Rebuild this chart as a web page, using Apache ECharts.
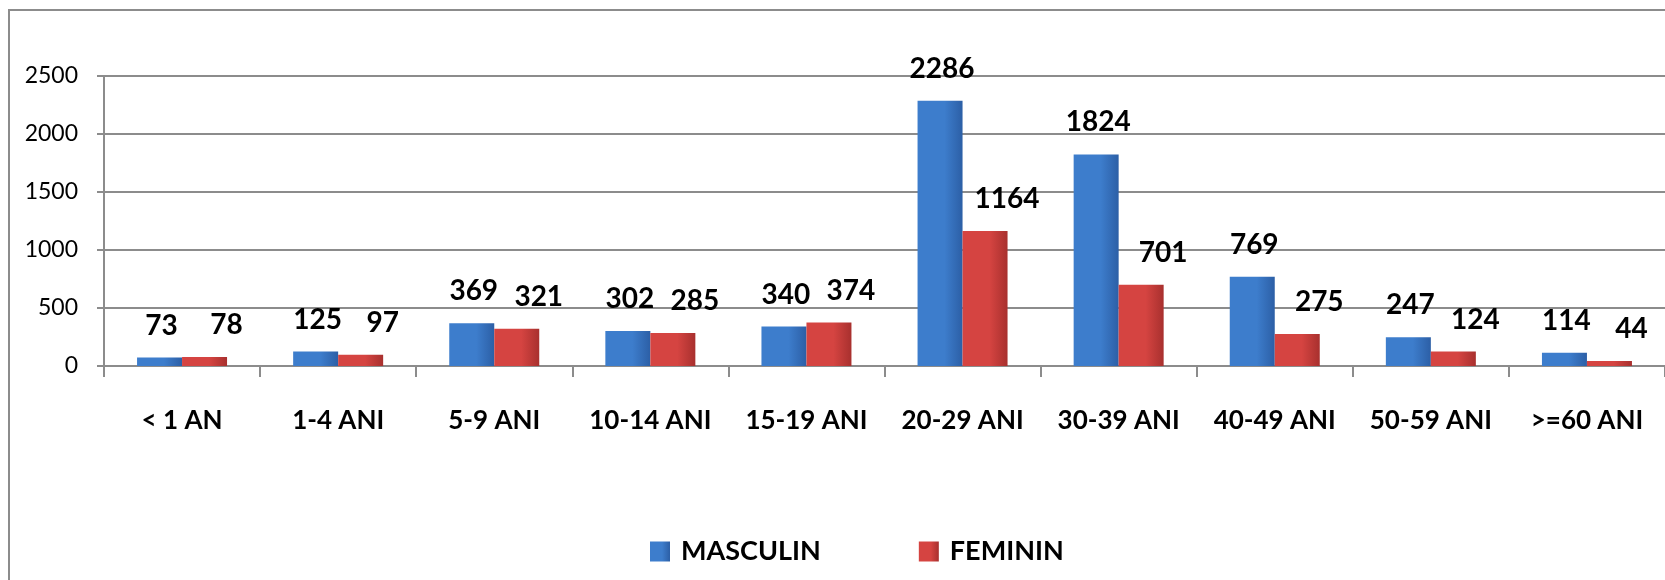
<!DOCTYPE html>
<html>
<head>
    <meta charset="utf-8">
    <title>Cazuri pe grupe de varsta</title>
    <style>
        html, body { margin: 0; padding: 0; background: #fff; }
        #main { width: 1665px; height: 580px; }
    </style>
</head>
<body>
    <div id="main"></div>
    <script src="https://cdn.jsdelivr.net/npm/echarts@6/dist/echarts.min.js"></script>
    <script>
        // date
        var categorii = ['< 1 AN', '1-4 ANI', '5-9 ANI', '10-14 ANI', '15-19 ANI', '20-29 ANI', '30-39 ANI', '40-49 ANI', '50-59 ANI', '>=60 ANI'];
        var masculin = [73, 125, 369, 302, 340, 2286, 1824, 769, 247, 114];
        var feminin = [78, 97, 321, 285, 374, 1164, 701, 275, 124, 44];
        var yTicks = [0, 500, 1000, 1500, 2000, 2500];

        var font = 'Lato, "Open Sans", sans-serif';

        function grad(c1, c2) {
            return new echarts.graphic.LinearGradient(0, 0, 1, 0, [
                { offset: 0, color: c2 },
                { offset: 0.6, color: c2 },
                { offset: 1, color: c1 }
            ]);
        }

        function eticheta(dx) {
            return {
                show: true, position: 'top', distance: 18, offset: [dx, 0],
                fontFamily: font, fontSize: 28, fontWeight: 'bold', color: '#000'
            };
        }

        var chart = echarts.init(document.getElementById('main'));
        var option = {
            animation: false,
            textStyle: { fontFamily: font },
            graphic: [{
                type: 'rect',
                shape: { x: 9, y: 10, width: 1700, height: 600 },
                style: { fill: 'none', stroke: '#8c8c8c', lineWidth: 2 },
                silent: true
            }],
            legend: {
                bottom: 10,
                left: 645,
                icon: 'rect',
                itemWidth: 20,
                itemHeight: 20,
                itemGap: 98,
                textStyle: { fontFamily: font, fontSize: 27, fontWeight: 'bold', color: '#000', padding: [0, 0, 0, 6] },
                data: ['MASCULIN', 'FEMININ']
            },
            grid: { left: 104, right: -8, top: 76, bottom: 214 },
            xAxis: {
                type: 'category',
                data: categorii,
                axisLine: { lineStyle: { color: '#8c8c8c', width: 2 } },
                axisTick: { show: true, length: 11, lineStyle: { color: '#8c8c8c', width: 2 } },
                axisLabel: { margin: 42, fontFamily: font, fontSize: 26, fontWeight: 'bold', color: '#000', interval: 0 }
            },
            yAxis: {
                type: 'value',
                min: yTicks[0],
                max: yTicks[yTicks.length - 1],
                interval: 500,
                axisLine: { show: true, lineStyle: { color: '#8c8c8c', width: 2 } },
                axisTick: { show: true, length: 7, lineStyle: { color: '#8c8c8c', width: 2 } },
                splitLine: { lineStyle: { color: '#8c8c8c', width: 2 } },
                axisLabel: { margin: 26, fontFamily: font, fontSize: 23, color: '#000', formatter: function (v) { return String(v); } }
            },
            series: [
                {
                    name: 'MASCULIN',
                    type: 'bar',
                    data: masculin,
                    barWidth: 45,
                    barGap: '0%',
                    itemStyle: { color: grad('#2c5fa6', '#3d7dcc') },
                    label: eticheta(2)
                },
                {
                    name: 'FEMININ',
                    type: 'bar',
                    data: feminin,
                    barWidth: 45,
                    barGap: '0%',
                    itemStyle: { color: grad('#a8302e', '#d54441') },
                    label: eticheta(22)
                }
            ]
        };
        chart.setOption(option);
    </script>
</body>
</html>
